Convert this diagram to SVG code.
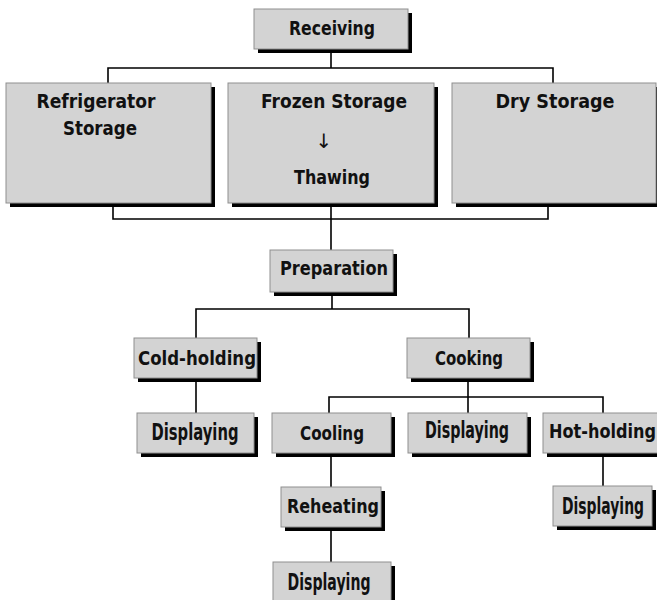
<svg xmlns="http://www.w3.org/2000/svg" width="657" height="600" viewBox="0 0 657 600">
<style>
.sh{fill:#000}
.bx{fill:#d3d3d3;stroke:#8f8f8f;stroke-width:1}
.t{font-family:"DejaVu Sans",sans-serif;font-size:20px;font-weight:bold;fill:#111;text-anchor:middle}
.d{font-size:23px}
.ln{fill:none;stroke:#000;stroke-width:1.6}
</style>
<rect width="657" height="600" fill="#fff"/>
<g id="connectors">
<path class="ln" d="M331 49V68M108 83V68H553V83"/>
<path class="ln" d="M113 206V219H548V206M331 203V250"/>
<path class="ln" d="M332 292V309M196 338V309H469V338"/>
<path class="ln" d="M196 378V413"/>
<path class="ln" d="M468 378V413M329 413V397H603V413"/>
<path class="ln" d="M331 453V487M331 527V562"/>
<path class="ln" d="M603 453V486"/>
</g>
<g id="receiving"><rect class="sh" x="258" y="13" width="154" height="40"/><rect class="bx" x="254" y="9" width="154" height="40"/><text class="t" x="332" y="35" textLength="86" lengthAdjust="spacingAndGlyphs">Receiving</text></g>
<g id="refrigerator"><rect class="sh" x="10" y="87" width="205" height="120"/><rect class="bx" x="6" y="83" width="205" height="120"/><text class="t" x="96" y="108" textLength="119" lengthAdjust="spacingAndGlyphs">Refrigerator</text><text class="t" x="100" y="135" textLength="74" lengthAdjust="spacingAndGlyphs">Storage</text></g>
<g id="frozen"><rect class="sh" x="232" y="87" width="206" height="120"/><rect class="bx" x="228" y="83" width="206" height="120"/><text class="t" x="334" y="108" textLength="146" lengthAdjust="spacingAndGlyphs">Frozen Storage</text><text class="t" x="324" y="148" style="font-size:20px;font-weight:normal">↓</text><text class="t" x="332" y="184" textLength="76" lengthAdjust="spacingAndGlyphs">Thawing</text></g>
<g id="dry"><rect class="sh" x="456" y="87" width="204" height="120"/><rect class="bx" x="452" y="83" width="204" height="120"/><text class="t" x="555" y="108" textLength="119" lengthAdjust="spacingAndGlyphs">Dry Storage</text></g>
<g id="preparation"><rect class="sh" x="274" y="254" width="123" height="42"/><rect class="bx" x="270" y="250" width="123" height="42"/><text class="t" x="334" y="275" textLength="108" lengthAdjust="spacingAndGlyphs">Preparation</text></g>
<g id="coldholding"><rect class="sh" x="138" y="342" width="123" height="40"/><rect class="bx" x="134" y="338" width="123" height="40"/><text class="t" x="197" y="365" textLength="118" lengthAdjust="spacingAndGlyphs">Cold-holding</text></g>
<g id="cooking"><rect class="sh" x="411" y="342" width="123" height="40"/><rect class="bx" x="407" y="338" width="123" height="40"/><text class="t" x="469" y="365" textLength="68" lengthAdjust="spacingAndGlyphs">Cooking</text></g>
<g id="displaying1"><rect class="sh" x="141" y="417" width="117" height="40"/><rect class="bx" x="137" y="413" width="117" height="40"/><text class="t d" x="195" y="440" textLength="87" lengthAdjust="spacingAndGlyphs">Displaying</text></g>
<g id="cooling"><rect class="sh" x="276" y="417" width="119" height="40"/><rect class="bx" x="272" y="413" width="119" height="40"/><text class="t" x="332" y="440" textLength="64" lengthAdjust="spacingAndGlyphs">Cooling</text></g>
<g id="displaying2"><rect class="sh" x="412" y="417" width="119" height="40"/><rect class="bx" x="408" y="413" width="119" height="40"/><text class="t d" x="467" y="438" textLength="84" lengthAdjust="spacingAndGlyphs">Displaying</text></g>
<g id="hotholding"><rect class="sh" x="547" y="417" width="130" height="40"/><rect class="bx" x="543" y="413" width="130" height="40"/><text class="t" x="549" y="438" style="text-anchor:start" textLength="107" lengthAdjust="spacingAndGlyphs">Hot-holding</text></g>
<g id="reheating"><rect class="sh" x="285" y="491" width="100" height="40"/><rect class="bx" x="281" y="487" width="100" height="40"/><text class="t" x="333" y="513" textLength="92" lengthAdjust="spacingAndGlyphs">Reheating</text></g>
<g id="displaying3"><rect class="sh" x="557" y="490" width="99" height="40"/><rect class="bx" x="553" y="486" width="99" height="40"/><text class="t d" x="603" y="514" textLength="82" lengthAdjust="spacingAndGlyphs">Displaying</text></g>
<g id="displaying4"><rect class="sh" x="277" y="566" width="118" height="50"/><rect class="bx" x="273" y="562" width="118" height="50"/><text class="t d" x="329" y="590" textLength="83" lengthAdjust="spacingAndGlyphs">Displaying</text></g>
</svg>
